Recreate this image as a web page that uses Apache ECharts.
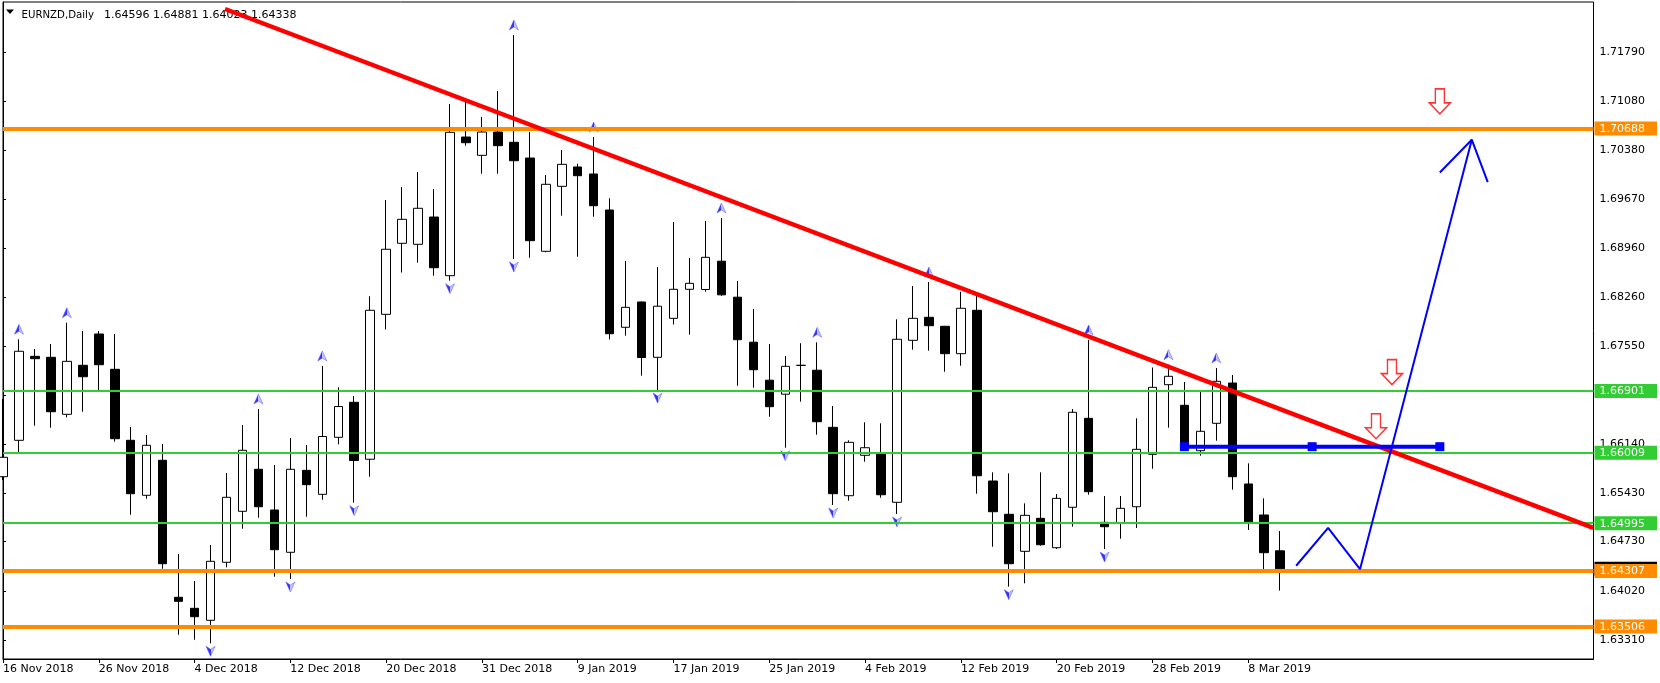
<!DOCTYPE html>
<html><head><meta charset="utf-8">
<script src="https://cdn.jsdelivr.net/npm/echarts@6/dist/echarts.min.js"></script>
<style>html,body{margin:0;padding:0;background:#fff}#c{width:1660px;height:683px}</style>
</head><body><div id="c"></div>
<script>
const symbolName = 'EURNZD,Daily';
const dates = ['16 Nov 2018','19 Nov 2018','20 Nov 2018','21 Nov 2018','22 Nov 2018','23 Nov 2018',
'26 Nov 2018','27 Nov 2018','28 Nov 2018','29 Nov 2018','30 Nov 2018','3 Dec 2018',
'4 Dec 2018','5 Dec 2018','6 Dec 2018','7 Dec 2018','10 Dec 2018','11 Dec 2018',
'12 Dec 2018','13 Dec 2018','14 Dec 2018','17 Dec 2018','18 Dec 2018','19 Dec 2018',
'20 Dec 2018','21 Dec 2018','24 Dec 2018','26 Dec 2018','27 Dec 2018','28 Dec 2018',
'31 Dec 2018','2 Jan 2019','3 Jan 2019','4 Jan 2019','7 Jan 2019','8 Jan 2019',
'9 Jan 2019','10 Jan 2019','11 Jan 2019','14 Jan 2019','15 Jan 2019','16 Jan 2019',
'17 Jan 2019','18 Jan 2019','21 Jan 2019','22 Jan 2019','23 Jan 2019','24 Jan 2019',
'25 Jan 2019','28 Jan 2019','29 Jan 2019','30 Jan 2019','31 Jan 2019','1 Feb 2019',
'4 Feb 2019','5 Feb 2019','6 Feb 2019','7 Feb 2019','8 Feb 2019','11 Feb 2019',
'12 Feb 2019','13 Feb 2019','14 Feb 2019','15 Feb 2019','18 Feb 2019','19 Feb 2019',
'20 Feb 2019','21 Feb 2019','22 Feb 2019','25 Feb 2019','26 Feb 2019','27 Feb 2019',
'28 Feb 2019','1 Mar 2019','4 Mar 2019','5 Mar 2019','6 Mar 2019','7 Mar 2019',
'8 Mar 2019','11 Mar 2019','12 Mar 2019'];

const open = [1.65665,1.66190,1.67401,1.67387,1.66565,1.67272,1.67723,1.67214,1.66190,1.65397,
1.65902,1.63926,1.63767,1.63594,1.64431,1.65166,1.65772,1.65185,1.64575,1.65757,
1.65411,1.66233,1.66738,1.65917,1.68007,1.69031,1.69017,1.69410,1.68564,1.70564,
1.70300,1.70636,1.70488,1.70261,1.68916,1.69853,1.70132,1.70031,1.69511,1.67820,
1.68185,1.67387,1.67949,1.68368,1.68365,1.68773,1.68254,1.67605,1.67057,1.66855,
1.67271,1.67201,1.66377,1.65391,1.65974,1.65997,1.65296,1.67632,1.67964,1.67834,
1.67439,1.68065,1.65603,1.65123,1.64589,1.65065,1.64641,1.65224,1.66507,1.65007,
1.64993,1.65232,1.65988,1.66992,1.66695,1.66040,1.66435,1.67016,1.65560,1.65113,
1.64596];
const close = [1.65945,1.67474,1.67367,1.66602,1.67329,1.67107,1.67280,1.66213,1.65420,1.66118,
1.64410,1.63868,1.63646,1.64445,1.65368,1.66046,1.65232,1.64612,1.65772,1.65550,
1.66245,1.66677,1.65899,1.68065,1.68945,1.69377,1.69536,1.68679,1.70632,1.70482,
1.70636,1.70439,1.70222,1.69069,1.69882,1.70170,1.70006,1.69573,1.67727,1.68108,
1.67384,1.68124,1.68368,1.68454,1.68829,1.68288,1.67641,1.67208,1.66675,1.67257,
1.67271,1.66458,1.65420,1.66161,1.66083,1.65405,1.67647,1.67949,1.67843,1.67439,
1.68094,1.65679,1.65160,1.64410,1.65108,1.64684,1.65353,1.66594,1.65449,1.64944,
1.65209,1.66060,1.66954,1.67113,1.66086,1.66320,1.67041,1.65665,1.65016,1.64569,
1.64338];
const low = [1.65617,1.66021,1.66400,1.66372,1.66522,1.66602,1.66915,1.66170,1.65117,1.65348,
1.64338,1.63386,1.63314,1.63262,1.64358,1.64915,1.65074,1.64223,1.64190,1.65088,
1.65333,1.66132,1.65290,1.65665,1.67788,1.68610,1.68751,1.68564,1.68492,1.70439,
1.70035,1.70035,1.68805,1.68823,1.68901,1.69429,1.68838,1.69415,1.67644,1.67699,
1.67122,1.66915,1.67860,1.67713,1.68333,1.68274,1.66977,1.66949,1.66530,1.66083,
1.66747,1.66271,1.65257,1.65319,1.65881,1.65362,1.65127,1.67497,1.67482,1.67179,
1.67266,1.65420,1.64655,1.64079,1.64128,1.64670,1.64622,1.64944,1.65405,1.64622,
1.64771,1.64925,1.65780,1.66372,1.66050,1.65968,1.66184,1.65478,1.64896,1.64334,
1.64023];
const high = [1.66786,1.67647,1.67507,1.67579,1.67886,1.67766,1.67766,1.67723,1.66382,1.66266,
1.66137,1.64550,1.64161,1.64680,1.65718,1.66411,1.66641,1.65834,1.66223,1.66122,
1.67262,1.66954,1.66829,1.68268,1.69656,1.69843,1.70059,1.69814,1.71040,1.71073,
1.70853,1.71228,1.72035,1.70636,1.70016,1.70377,1.70179,1.70564,1.69680,1.68776,
1.68190,1.68689,1.69338,1.68819,1.69353,1.69396,1.68487,1.68084,1.67579,1.67406,
1.67590,1.67603,1.66685,1.66190,1.66450,1.66435,1.67935,1.68415,1.68473,1.67840,
1.68333,1.68319,1.65728,1.65714,1.65281,1.65728,1.65416,1.66641,1.67637,1.65387,
1.65387,1.66507,1.67240,1.67280,1.67031,1.66891,1.67233,1.67132,1.65858,1.65353,
1.64881];

const priceTicks = [1.63310,1.64020,1.64730,1.65430,1.66140,1.66840,1.67550,1.68260,1.68960,1.69670,1.70380,1.71080,1.71790];
const dateTickIdx = [0,6,12,18,24,30,36,42,48,54,60,66,72,78];

const levelsOrange = [1.70688, 1.64307, 1.63506];
const levelsGreen = [1.66901, 1.66009, 1.64995];
const trendline = [[13.906, 1.72410], [99.61, 1.64928]];
const blueLevel = [[74, 1.66098], [82, 1.66098], [90, 1.66098]];
const bluePath = [[81, 1.64381], [83, 1.64928], [85, 1.64332], [92, 1.70525]];
const blueHead = [[90, 1.70052], [92, 1.70525], [93, 1.69912]];
const redArrows = [[90, 1.70897], [87, 1.66993], [86, 1.66212]];
const fractalUp = [1,4,16,20,32,37,45,51,58,68,73,76];
const fractalDown = [13,18,22,28,32,41,49,52,56,63,69];

const Y_MIN = 1.630361, Y_MAX = 1.725111;
const X_MIN = 0, X_MAX = 99.625;
const FONT = 'DejaVu Sans';
const ORANGE = '#FF8C00', GREEN = '#32CD32';
const last = dates.length - 1;

const chart = echarts.init(document.getElementById('c'), null, {renderer: 'canvas'});

const candleData = dates.map((d, i) => [i, open[i], close[i], low[i], high[i]]);
const isOrange = v => levelsOrange.some(o => Math.abs(o - v) < 1e-7);
const fracGrad = new echarts.graphic.LinearGradient(0, 0, 1, 0, [
  {offset: 0, color: '#0000ff'}, {offset: 0.5, color: '#0000ff'},
  {offset: 0.5, color: '#b4b4ff'}, {offset: 1, color: '#b4b4ff'}]);

const badge = (bg) => ({backgroundColor: bg, color: '#fff', fontFamily: FONT, fontSize: 11,
  lineHeight: 11, padding: [2, 12, 1, 5]});

const option = {
  animation: false,
  backgroundColor: '#fff',
  title: {
    left: 21.5, top: 6, z: 0, padding: 0,
    text: '{n|' + symbolName + '}  {v|' + [open[last], high[last], low[last], close[last]].map(v => v.toFixed(5)).join(' ') + '}',
    textStyle: {
      fontWeight: 'normal',
      rich: {
        n: {fontFamily: FONT, fontSize: 10.2, color: '#000', fontWeight: 'normal'},
        v: {fontFamily: FONT, fontSize: 11, color: '#000', fontWeight: 'normal'}
      }
    }
  },
  graphic: [{type: 'polygon', z: 0, shape: {points: [[6, 9.5], [14, 9.5], [10, 14]]}, style: {fill: '#000'}}],
  grid: {left: 3, right: 63, top: 2, bottom: 24, show: true, borderColor: '#000', borderWidth: 1, backgroundColor: '#fff'},
  xAxis: {
    type: 'value', min: X_MIN, max: X_MAX,
    splitLine: {show: false},
    axisLine: {show: true, lineStyle: {color: '#000', width: 1}},
    axisTick: {show: true, length: 4, customValues: dateTickIdx, lineStyle: {color: '#000'}},
    axisLabel: {customValues: dateTickIdx, formatter: v => dates[Math.round(v)] || '',
      align: 'left', margin: 5, color: '#000', fontFamily: FONT, fontSize: 11}
  },
  yAxis: [
    {
      type: 'value', position: 'right', min: Y_MIN, max: Y_MAX,
      splitLine: {show: false},
      axisLine: {show: true, lineStyle: {color: '#000', width: 1}},
      axisTick: {show: true, length: 3, customValues: priceTicks, lineStyle: {color: '#000'}},
      axisLabel: {customValues: priceTicks, formatter: v => v.toFixed(5), margin: 6,
        color: '#000', fontFamily: FONT, fontSize: 11}
    },
    {
      type: 'value', position: 'right', min: Y_MIN, max: Y_MAX,
      splitLine: {show: false}, axisLine: {show: false}, axisTick: {show: false},
      axisLabel: {customValues: [close[last]], margin: 1,
        formatter: v => '{b|' + v.toFixed(5) + '}', rich: {b: badge('#000')}}
    },
    {
      type: 'value', position: 'right', min: Y_MIN, max: Y_MAX,
      splitLine: {show: false}, axisLine: {show: false}, axisTick: {show: false},
      axisLabel: {customValues: levelsOrange.concat(levelsGreen), margin: 1,
        formatter: v => (isOrange(v) ? '{o|' : '{g|') + v.toFixed(5) + '}',
        rich: {o: badge(ORANGE), g: badge(GREEN)}}
    }
  ],
  series: [
    {
      type: 'candlestick', name: symbolName, data: candleData, barWidth: 9, z: 2,
      itemStyle: {color: '#fff', color0: '#000', borderColor: '#000', borderColor0: '#000',
        borderColorDoji: '#000', borderWidth: 1},
      markLine: {
        silent: true, symbol: ['none', 'none'], z: 5, animation: false, precision: 5,
        label: {show: false},
        data: levelsOrange.map(v => ({yAxis: v, lineStyle: {color: ORANGE, width: 4, type: 'solid'}}))
          .concat(levelsGreen.map(v => ({yAxis: v, lineStyle: {color: GREEN, width: 2, type: 'solid'}})))
      }
    },
    {
      type: 'line', name: 'trend', data: trendline, showSymbol: false, z: 6,
      lineStyle: {color: '#ff0000', width: 4.5}
    },
    {
      type: 'line', name: 'level', data: blueLevel, symbol: 'rect', symbolSize: 9, showAllSymbol: true, z: 7,
      lineStyle: {color: '#0000ff', width: 4}, itemStyle: {color: '#0000ff'}
    },
    {
      type: 'line', name: 'path', data: bluePath, showSymbol: false, z: 7,
      lineStyle: {color: '#0000ff', width: 2}
    },
    {
      type: 'line', name: 'head', data: blueHead, showSymbol: false, z: 7,
      lineStyle: {color: '#0000ff', width: 2}
    },
    {
      type: 'scatter', name: 'arrows', data: redArrows, z: 8,
      symbol: 'path://M-4.5,0 L4.5,0 L4.5,14 L10.5,14 L0,25 L-10.5,14 L-4.5,14 Z',
      symbolSize: [21, 25], symbolOffset: [0, -12.5],
      itemStyle: {color: '#fff', borderColor: '#ff0000', borderWidth: 1.5}
    },
    {
      type: 'scatter', name: 'fractalUp', data: fractalUp.map(i => [i, high[i]]), z: 4,
      symbol: 'path://M5,0 L10,10 L5,7 L0,10 Z', symbolSize: [9, 10], symbolOffset: [0, -10],
      itemStyle: {color: fracGrad, borderColor: '#5050ff', borderWidth: 0.6}
    },
    {
      type: 'scatter', name: 'fractalDown', data: fractalDown.map(i => [i, low[i]]), z: 4,
      symbol: 'path://M0,0 L5,3 L10,0 L5,10 Z', symbolSize: [9, 10], symbolOffset: [0, 8],
      itemStyle: {color: fracGrad, borderColor: '#5050ff', borderWidth: 0.6}
    }
  ]
};
chart.setOption(option);
</script></body></html>
